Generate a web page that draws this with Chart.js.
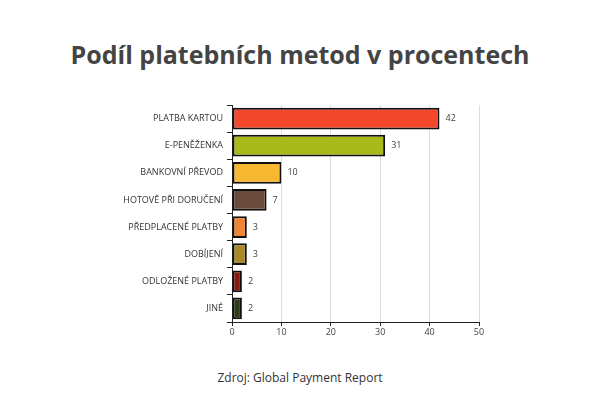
<!DOCTYPE html>
<html><head><meta charset="utf-8">
<script src="https://cdn.jsdelivr.net/npm/chart.js@4"></script>
<style>
body{margin:0;width:600px;height:400px;background:#fff;font-family:"Open Sans",sans-serif;position:relative;overflow:hidden}
#t{position:absolute;top:37px;left:0;width:600px;text-align:center;font-size:25px;font-weight:bold;color:#444}
#s{position:absolute;top:369px;left:0;width:600px;text-align:center;font-size:12px;color:#333}
canvas{position:absolute;left:0;top:0}
</style></head><body>
<div id="t">Podíl platebních metod v procentech</div>
<div id="s">Zdroj: Global Payment Report</div>
<canvas id="c" width="600" height="400"></canvas>
<script>
const categories=["PLATBA KARTOU","E-PENĚŽENKA","BANKOVNÍ PŘEVOD","HOTOVĚ PŘI DORUČENÍ","PŘEDPLACENÉ PLATBY","DOBÍJENÍ","ODLOŽENÉ PLATBY","JINÉ"];
const values=[42,31,10,7,3,3,2,2];
const colors=["#f5472b","#a8b91a","#f7b731","#6a4a3a","#ef8537","#a88a2a","#8a1a10","#2e3a1a"];
const labelPlugin={id:'lbl',afterDatasetsDraw(ch){const c=ch.ctx;const m=ch.getDatasetMeta(0);c.save();c.font='9px "Open Sans"';c.fillStyle='#444';c.textBaseline='middle';m.data.forEach((b,i)=>{c.fillText(values[i],b.x+6,b.y);});c.restore();}};
new Chart(document.getElementById('c'),{type:'bar',
data:{labels:categories,datasets:[{data:values,backgroundColor:colors,borderColor:'#111',borderWidth:2,borderSkipped:false,categoryPercentage:0.8,barPercentage:1}]},
options:{indexAxis:'y',responsive:false,animation:false,
layout:{padding:{left:0,right:121,top:105,bottom:58}},
plugins:{legend:{display:false},tooltip:{enabled:false}},
scales:{
x:{min:0,max:50,ticks:{stepSize:10,color:'#444',font:{size:9,family:'Open Sans'},padding:1},grid:{color:(c)=>c.index===0?'#222':'#ddd',tickColor:'#222',tickLength:4},border:{color:'#222',width:1},afterFit(s){s.height=20;}},
y:{ticks:{color:'#333',font:{size:9,family:'Open Sans'},padding:4},grid:{display:true,drawOnChartArea:false,color:'#222',tickLength:5,offset:true},border:{color:'#222',width:1},afterFit(s){s.width=232;}}
}},plugins:[labelPlugin]});
</script></body></html>
